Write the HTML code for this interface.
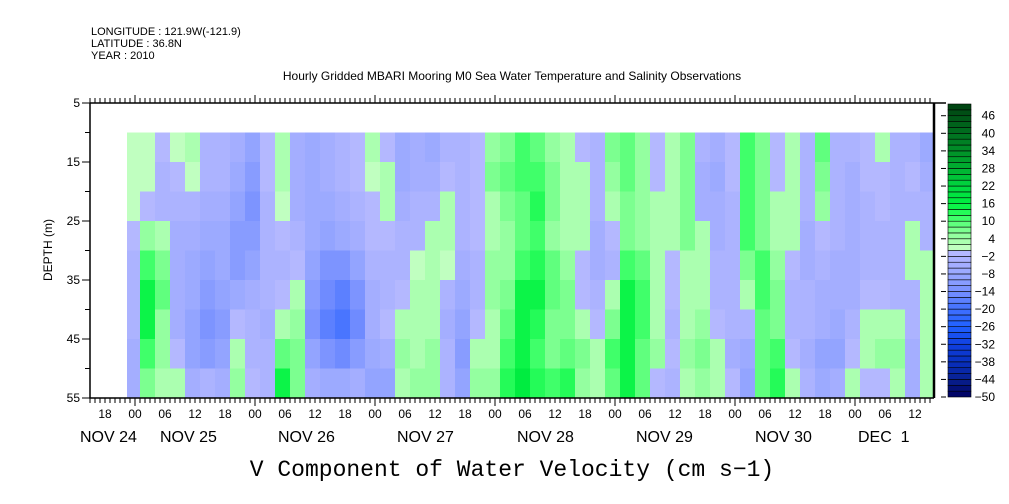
<!DOCTYPE html>
<html><head><meta charset="utf-8"><style>
body{margin:0;background:#fff;width:1009px;height:504px;overflow:hidden}
svg{display:block;font-family:"Liberation Sans",sans-serif}
</style></head><body>
<svg id="chart" width="1009" height="504" viewBox="0 0 1009 504">
<text x="91" y="35" font-size="11">LONGITUDE : 121.9W(-121.9)</text>
<text x="91" y="47" font-size="11">LATITUDE : 36.8N</text>
<text x="91" y="59" font-size="11">YEAR : 2010</text>
<text x="512" y="80" font-size="12" text-anchor="middle">Hourly Gridded MBARI Mooring M0 Sea Water Temperature and Salinity Observations</text>
<g id="heat"></g>
<g id="axes"></g>
<g id="cbar"></g>
<text transform="translate(52,250) rotate(-90)" font-size="12" text-anchor="middle">DEPTH (m)</text>
<text x="512" y="476" font-family="Liberation Mono, monospace" font-size="23" text-anchor="middle">V Component of Water Velocity (cm s−1)</text>
</svg>
<script>
// hours from first labelled 00, one column every 3 hours
const colStartHour = -2;
const colStepHours = 3;
const depthBands = [10,15,20,25,30,35,40,45,50,55];
const velocity = [
[1,1,1,-2,-4,-4,-4,-6,-6],[1,0,-1,4,10,14,14,10,6],[-2,-4,-4,2,6,8,4,4,2],[0,-2,-4,-6,-6,-6,-6,-2,2],
[2,0,-4,-6,-8,-8,-10,-10,-6],[-4,-4,-6,-8,-10,-12,-14,-12,-4],[-4,-4,-6,-8,-8,-10,-12,-10,-6],[-6,-8,-10,-12,-12,-8,-2,2,4],
[-10,-12,-14,-12,-10,-6,-4,-4,-2],[-2,-2,-4,-4,-4,-4,-6,-4,-4],[2,2,0,-2,-4,-2,2,8,14],[-6,-6,-6,-4,-2,2,4,6,6],
[-8,-8,-8,-8,-10,-12,-14,-10,-6],[-6,-6,-8,-10,-14,-16,-18,-14,-8],[-4,-4,-6,-8,-14,-18,-20,-16,-8],[-2,-2,-4,-6,-10,-14,-16,-12,-6],
[2,0,-2,-2,-4,-6,-6,-8,-10],[-2,2,2,-2,-4,-4,-2,-6,-10],[-8,-8,-6,-4,-4,-2,2,4,2],[-6,-6,-4,-4,0,2,2,2,4],
[-8,-6,-4,2,2,2,2,4,4],[-4,-2,2,2,0,-4,-6,-4,-4],[-4,-4,-4,-4,-6,-8,-10,-12,-10],[-2,-2,-2,-2,-4,-4,-2,2,4],
[4,6,2,2,4,4,2,2,4],[6,8,6,4,4,6,8,10,12],[10,10,8,8,10,14,14,14,16],[8,10,12,10,12,14,12,10,12],
[4,6,6,4,8,8,6,6,10],[2,2,2,2,4,6,6,8,12],[-2,2,2,2,-2,-2,2,6,4],[-4,-4,-4,-6,-6,-4,-2,2,2],
[6,4,2,-2,-4,2,6,10,8],[8,8,6,6,10,14,14,14,14],[4,4,4,4,8,10,10,8,8],[-2,-2,2,2,2,2,2,4,-2],
[2,2,2,2,-2,-2,-4,-2,-4],[6,6,6,6,2,2,2,4,2],[-4,-6,-6,2,2,2,4,6,4],[-6,-8,-6,-6,-4,-4,-2,2,2],
[-2,-2,-4,-4,-4,-4,-4,-6,-2],[10,10,10,10,6,2,-4,-8,-10],[6,6,6,6,10,10,8,8,8],[-2,-2,2,2,4,6,6,10,12],
[2,2,2,2,-2,-4,-4,-2,2],[-4,-4,-4,-6,-6,-4,-4,-6,-4],[8,6,4,-2,-4,-6,-6,-10,-8],[-4,-4,-4,-4,-6,-6,-8,-10,-6],
[-4,-6,-6,-6,-6,-6,-4,-2,2],[-2,-2,-4,-4,-4,-2,2,2,-2],[2,-2,-2,-4,-4,-2,2,4,-2],[-4,-4,-4,-4,-4,-4,2,4,2],
[-4,-2,-4,2,2,-4,-4,-6,-6],[-8,-6,-4,-4,2,2,2,2,2]
];
const yTicks = [5,15,25,35,45,55];
const hourLabels = ["18","00","06","12","18","00","06","12","18","00","06","12","18","00","06","12","18","00","06","12","18","00","06","12","18","00","06","12"];
const hourLabelStart = -6;
const dateLabels = ["NOV 24","NOV 25","NOV 26","NOV 27","NOV 28","NOV 29","NOV 30","DEC  1"];
const dateLabelX = [80,160,278,397,517,636,755,858];
const cbarLabels = [46,40,34,28,22,16,10,4,-2,-8,-14,-20,-26,-32,-38,-44,-50];

const NS="http://www.w3.org/2000/svg";
const X0=90,X1=934,Y0=103,Y1=398;
const xOf=h=>135+5*h;
const yOf=d=>Y0+(d-5)*(Y1-Y0)/50;
function mk(tag,attrs,parent){const e=document.createElementNS(NS,tag);for(const k in attrs)e.setAttribute(k,attrs[k]);parent.appendChild(e);return e;}
function hex(c){return [parseInt(c.slice(1,3),16),parseInt(c.slice(3,5),16),parseInt(c.slice(5,7),16)];}
const stops=[[-50,"#000060"],[-44,"#082090"],[-38,"#0830c0"],[-32,"#1040e0"],[-26,"#2060ff"],[-20,"#4070ff"],[-14,"#7890ff"],[-8,"#98a8ff"],[-4,"#a8b0ff"],[-1,"#b4b8ff"],
[1,"#c0ffc0"],[4,"#a0ffa8"],[8,"#70ff88"],[12,"#30ff60"],[16,"#00f040"],[22,"#00d840"],[28,"#00b030"],[34,"#009028"],[40,"#007020"],[50,"#004010"]];
function color(v){
  const b=Math.floor(v/2)*2+1;
  if(b<=stops[0][0])return stops[0][1];
  for(let i=1;i<stops.length;i++){if(b<=stops[i][0]){const [a,ca]=stops[i-1],[c,cc]=stops[i];const t=(b-a)/(c-a);const A=hex(ca),C=hex(cc);return "rgb("+A.map((x,j)=>Math.round(x+(C[j]-x)*t)).join(",")+")";}}
  return stops[stops.length-1][1];
}
const heat=document.getElementById('heat');
const cp=mk('clipPath',{id:'clip'},heat);
mk('rect',{x:127,y:Y0,width:X1-127,height:Y1-Y0},cp);
const hg=mk('g',{'clip-path':'url(#clip)'},heat);
velocity.forEach((col,i)=>{
  const xa=xOf(colStartHour+i*colStepHours), xb=xOf(colStartHour+(i+1)*colStepHours);
  col.forEach((v,k)=>{
    const ya=yOf(depthBands[k]), yb=yOf(depthBands[k+1]);
    const r=mk('rect',{x:xa,y:ya,width:xb-xa+0.6,height:yb-ya+0.6,fill:color(v)},hg);
    
    
  });
});
const ax=document.getElementById('axes');
mk('path',{d:`M${X0} ${Y0}V${Y1}H${X1}`,stroke:'#000','stroke-width':1.5,fill:'none'},ax);
mk('line',{x1:X0,y1:Y0,x2:946,y2:Y0,stroke:'#000','stroke-width':1.5},ax);
mk('line',{x1:X1,y1:Y0,x2:X1,y2:Y1,stroke:'#000','stroke-width':2.5},ax);
for(let d=5;d<=55;d+=5){const maj=(d-5)%10===0;mk('line',{x1:maj?82:85,y1:yOf(d),x2:X0,y2:yOf(d),stroke:'#000'},ax);}
yTicks.forEach(d=>{const t=mk('text',{x:80,y:yOf(d)+4,'font-size':12,'text-anchor':'end'},ax);t.textContent=d;

});
for(let h=-9;h<=161;h++){const x=xOf(h);if(x<X0||x>X1)continue;const d=((h%24)+24)%24===0;
 mk('line',{x1:x,y1:Y1,x2:x,y2:Y1+(d?8:5),stroke:'#000'},ax);
 mk('line',{x1:x,y1:Y0,x2:x,y2:Y0-(d?8:5),stroke:'#000'},ax);}
hourLabels.forEach((s,i)=>{const x=xOf(hourLabelStart+6*i);if(x>X1)return;const t=mk('text',{x:x,y:418,'font-size':12,'text-anchor':'middle'},ax);t.textContent=s;

});
dateLabels.forEach((s,i)=>{const t=mk('text',{x:dateLabelX[i],y:442,'font-size':16},ax);t.textContent=s;t.style.whiteSpace='pre';

});
const cb=document.getElementById('cbar');
const CY0=104,CY1=397,cy=v=>CY1-(v+50)/100*(CY1-CY0);
for(let v=-50;v<50;v+=2){const r=mk('rect',{x:948,y:cy(v+2),width:23,height:cy(v)-cy(v+2),fill:color(v+1),stroke:'#000','stroke-width':0.6},cb);

}
cbarLabels.forEach(v=>{mk('line',{x1:941,y1:cy(v),x2:946,y2:cy(v),stroke:'#000'},cb);
const t=mk('text',{x:995,y:cy(v)+4,'font-size':12,'text-anchor':'end'},cb);t.textContent=v<0?'−'+(-v):v;

});
</script>
</body></html>
